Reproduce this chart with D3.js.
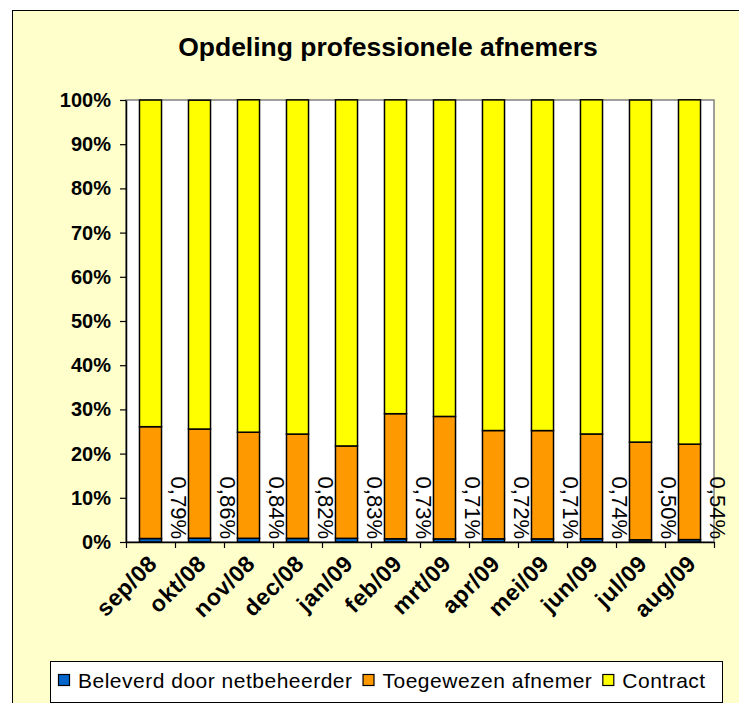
<!DOCTYPE html>
<html>
<head>
<meta charset="utf-8">
<script src="https://cdn.jsdelivr.net/npm/d3@7/dist/d3.min.js"></script>
<style>
  html, body { margin: 0; padding: 0; background: #ffffff; }
  svg { display: block; }
</style>
</head>
<body>
<script>
// ── data (percent of professional customers per month) ─────────────────
var months     = ['sep/08', 'okt/08', 'nov/08', 'dec/08', 'jan/09', 'feb/09',
                  'mrt/09', 'apr/09', 'mei/09', 'jun/09', 'jul/09', 'aug/09'];
var beleverd   = [0.79, 0.86, 0.84, 0.82, 0.83, 0.73, 0.71, 0.72, 0.71, 0.74, 0.50, 0.54];
var toegewezen = [25.3, 24.7, 24.0, 23.6, 20.9, 28.3, 27.7, 24.5, 24.5, 23.7, 22.1, 21.6];
var contract   = [73.9, 74.4, 75.2, 75.6, 78.3, 71.0, 71.6, 74.8, 74.8, 75.6, 77.4, 77.9];
var beleverdLabels = ['0,79%', '0,86%', '0,84%', '0,82%', '0,83%', '0,73%',
                      '0,71%', '0,72%', '0,71%', '0,74%', '0,50%', '0,54%'];
var seriesNames  = ['Beleverd door netbeheerder', 'Toegewezen afnemer', 'Contract'];
var seriesColors = ['#0066cc', '#ff9900', '#ffff00'];
var yTicks = [0, 10, 20, 30, 40, 50, 60, 70, 80, 90, 100];

(function () {
    var W = 739, H = 703;
    var font = '"Liberation Sans", Arial, sans-serif';

    // plot area
    var left = 126, right = 714, top = 100, bottom = 542;

    var svg = d3.select('body').append('svg')
        .attr('width', W).attr('height', H);

    // chart background + border
    svg.append('rect')
        .attr('x', 12.5).attr('y', 10.5)
        .attr('width', W + 20).attr('height', H + 20)
        .attr('fill', '#ffffcc').attr('stroke', '#000').attr('stroke-width', 1);

    // title
    svg.append('text')
        .attr('x', 388).attr('y', 56)
        .attr('text-anchor', 'middle')
        .attr('font-family', font).attr('font-weight', 'bold')
        .attr('font-size', '26.5px')
        .text('Opdeling professionele afnemers');

    // plot background
    svg.append('rect')
        .attr('x', left).attr('y', top)
        .attr('width', right - left).attr('height', bottom - top)
        .attr('fill', '#fff').attr('stroke', '#808080').attr('stroke-width', 1.5);

    // ── scales ─────────────────────────────────────────────────────────
    var x = d3.scaleBand().domain(months).range([left, right])
        .paddingInner(0.55).paddingOuter(0.275);
    var xEdge = d3.scaleLinear().domain([0, months.length]).range([left, right]);
    var y = d3.scaleLinear().domain([0, 100]).range([bottom, top]);

    // ── stacked bars ───────────────────────────────────────────────────
    var rows = months.map(function (m, i) {
        return { month: m, b: beleverd[i], t: toegewezen[i], c: contract[i] };
    });
    var stack = d3.stack().keys(['b', 't', 'c'])(rows);

    var layers = svg.append('g').selectAll('g')
        .data(stack).enter().append('g')
        .attr('fill', function (d, i) { return seriesColors[i]; });

    layers.selectAll('rect')
        .data(function (d) { return d; })
        .enter().append('rect')
        .attr('x', function (d) { return x(d.data.month); })
        .attr('width', x.bandwidth())
        .attr('y', function (d) { return y(d[1]); })
        .attr('height', function (d) { return y(d[0]) - y(d[1]); })
        .attr('stroke', '#000').attr('stroke-width', 1.5);

    // ── axes ───────────────────────────────────────────────────────────
    var yAxis = svg.append('g')
        .attr('transform', 'translate(' + left + ',0)')
        .call(d3.axisLeft(y).tickValues(yTicks)
            .tickFormat(function (d) { return d + '%'; })
            .tickSize(6).tickSizeOuter(0));
    yAxis.select('.domain').attr('stroke', '#000').attr('stroke-width', 1.5);
    yAxis.selectAll('.tick line').attr('stroke', '#000').attr('stroke-width', 1.2);
    yAxis.selectAll('.tick text')
        .attr('x', -15)
        .attr('font-family', font).attr('font-weight', 'bold')
        .attr('font-size', '20px').attr('fill', '#000');

    var xAxis = svg.append('g')
        .attr('transform', 'translate(0,' + bottom + ')')
        .call(d3.axisBottom(xEdge).ticks(months.length)
            .tickFormat('').tickSize(6).tickSizeOuter(0));
    xAxis.select('.domain').attr('stroke', '#000').attr('stroke-width', 1.5);
    xAxis.selectAll('.tick line').attr('stroke', '#000').attr('stroke-width', 1.2);

    // month labels, rotated
    svg.append('g').selectAll('text')
        .data(months).enter().append('text')
        .attr('transform', function (m) {
            return 'translate(' + (x(m) + x.bandwidth() / 2 + 8) + ',' + (bottom + 23) + ') rotate(-45)';
        })
        .attr('text-anchor', 'end')
        .attr('font-family', font).attr('font-weight', 'bold')
        .attr('font-size', '23px').attr('letter-spacing', '0.5px')
        .text(function (m) { return m; });

    // data labels for "Beleverd door netbeheerder" (shifted right of each bar)
    svg.append('g').selectAll('text')
        .data(months).enter().append('text')
        .attr('transform', function (m) {
            var cx = x(m) + x.bandwidth() / 2 + x.step() / 2 + 4;
            return 'translate(' + cx + ',' + (bottom - 3) + ') rotate(90)';
        })
        .attr('dy', '0.35em')
        .attr('text-anchor', 'end')
        .attr('font-family', font).attr('font-size', '22px')
        .text(function (m, i) { return beleverdLabels[i]; });

    // ── legend ─────────────────────────────────────────────────────────
    var lg = svg.append('g');
    lg.append('rect')
        .attr('x', 50.5).attr('y', 661.5)
        .attr('width', 672).attr('height', 41)
        .attr('fill', '#fff').attr('stroke', '#000').attr('stroke-width', 1);

    var lx = 58;
    seriesNames.forEach(function (name, i) {
        lg.append('rect')
            .attr('x', lx + 0.5).attr('y', 674.5)
            .attr('width', 11).attr('height', 11)
            .attr('fill', seriesColors[i]).attr('stroke', '#000').attr('stroke-width', 1.2);
        var t = lg.append('text')
            .attr('x', lx + 20).attr('y', 688)
            .attr('font-family', font).attr('font-size', '21px')
            .attr('letter-spacing', '0.5px')
            .text(name);
        lx += 20 + t.node().getComputedTextLength() + 10;
    });
})();
</script>
</body>
</html>
